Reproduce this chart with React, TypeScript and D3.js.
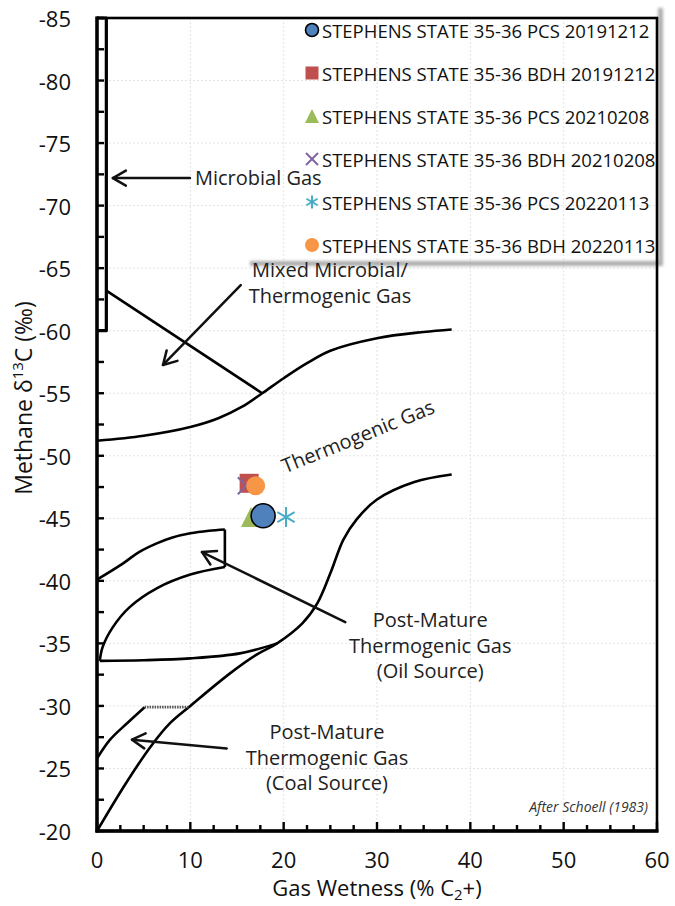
import React from 'react';
import * as d3 from 'd3';

const W = 675;
const H = 906;

// axes
const xDomain: [number, number] = [0, 60];
const yDomain: [number, number] = [-85, -20];
const xTickLabels = [0, 10, 20, 30, 40, 50, 60];
const yTickLabels = [-85, -80, -75, -70, -65, -60, -55, -50, -45, -40, -35, -30, -25, -20];

// series (gas wetness %, methane d13C)
const seriesNames = [
  'STEPHENS STATE 35-36 PCS 20191212',
  'STEPHENS STATE 35-36 BDH 20191212',
  'STEPHENS STATE 35-36 PCS 20210208',
  'STEPHENS STATE 35-36 BDH 20210208',
  'STEPHENS STATE 35-36 PCS 20220113',
  'STEPHENS STATE 35-36 BDH 20220113',
];
const seriesX = [17.8, 16.3, 16.5, 16.0, 20.25, 17.0];
const seriesY = [-45.2, -47.8, -45.1, -47.6, -45.1, -47.6];
const seriesColors = ['#4F81BD', '#C0504D', '#9BBB59', '#8064A2', '#4BACC6', '#F79646'];
const seriesShapes = ['circle', 'square', 'triangle', 'x', 'asterisk', 'dot'];
const drawOrder = [1, 3, 5, 2, 0, 4];

// Schoell (1983) field boundaries
const microbialBoxX = [0, 1, 1, 0];
const microbialBoxY = [-85, -85, -60, -60];
const mixedLineX = [1, 17.7];
const mixedLineY = [-63.2, -55];
const thermoUpperX = [0, 5, 10, 13, 15.5, 17.7, 20, 22.5, 25, 30, 35, 38];
const thermoUpperY = [-51.2, -51.6, -52.3, -53.0, -53.9, -55.0, -56.2, -57.4, -58.4, -59.4, -59.9, -60.1];
const thermoLowerX = [0, 3, 5.7, 7.8, 10, 14.25, 17.1, 19.3, 22, 23.6, 25, 26.4, 27.8, 30, 34, 38];
const thermoLowerY = [-20, -23.7, -26.7, -28.6, -30, -32.6, -34.1, -35, -36.6, -38.2, -40.6, -43.3, -44.9, -46.5, -47.9, -48.5];
const oilBaseX = [0.3, 5, 10, 15.3, 19.3];
const oilBaseY = [-33.6, -33.65, -33.8, -34.2, -35];
const oilUpperX = [0, 2.8, 4.5, 6.4, 8, 10, 12, 13.7];
const oilUpperY = [-40.1, -41.4, -42.3, -43.0, -43.45, -43.8, -44.0, -44.1];
const oilEdgeX = [13.7, 13.7];
const oilEdgeY = [-44.1, -41.1];
const oilInnerX = [13.7, 10, 6.4, 3.5, 1.7, 0.6, 0.3];
const oilInnerY = [-41.1, -40.5, -39.4, -37.9, -36.3, -34.7, -33.6];
const coalUpperX = [0, 1.4, 3.2, 5.1];
const coalUpperY = [-25.8, -27.3, -28.6, -29.9];
const coalTopX = [5.1, 9.8];
const coalTopY = [-29.9, -29.9];

// annotation arrows: [fromX, fromY, toX, toY]
const arrowMicrobial = [9.96, -72.2, 1.7, -72.2];
const arrowMixed = [15.4, -63.65, 7.07, -57.26];
const arrowOil = [26.6, -36.7, 11.25, -42.3];
const arrowCoal = [13.9, -26.6, 3.75, -27.3];

const zip = (xs: number[], ys: number[]) => xs.map((v, i) => [v, ys[i]] as [number, number]);

export default function App() {
  const x = d3.scaleLinear().domain(xDomain).range([97, 657]);
  const y = d3.scaleLinear().domain(yDomain).range([18, 831]);

  const smooth = d3
    .line<[number, number]>()
    .x((d) => x(d[0]))
    .y((d) => y(d[1]))
    .curve(d3.curveCatmullRom.alpha(0.5));
  const straight = d3
    .line<[number, number]>()
    .x((d) => x(d[0]))
    .y((d) => y(d[1]));

  const xMinor = d3.range(0, 60.01, 2.5);
  const yMinor = d3.range(-85, -19.99, 2.5);

  const arrow = (a: number[], key: string) => {
    const x1 = x(a[0]), y1 = y(a[1]), x2 = x(a[2]), y2 = y(a[3]);
    const ang = Math.atan2(y2 - y1, x2 - x1);
    const L = 15;
    const w1 = [x2 - L * Math.cos(ang - Math.PI / 6), y2 - L * Math.sin(ang - Math.PI / 6)];
    const w2 = [x2 - L * Math.cos(ang + Math.PI / 6), y2 - L * Math.sin(ang + Math.PI / 6)];
    return (
      <g key={key} stroke="#111" strokeWidth={2.5} fill="none" strokeLinecap="round" strokeLinejoin="round">
        <line x1={x1} y1={y1} x2={x2} y2={y2} />
        <polyline points={`${w1[0]},${w1[1]} ${x2},${y2} ${w2[0]},${w2[1]}`} />
      </g>
    );
  };

  const marker = (shape: string, color: string, cx: number, cy: number, s: number, key: string) => {
    switch (shape) {
      case 'circle':
        return <circle key={key} cx={cx} cy={cy} r={s / 2} fill={color} stroke="#000" strokeWidth={1.6} />;
      case 'dot':
        return <circle key={key} cx={cx} cy={cy} r={s / 2} fill={color} />;
      case 'square':
        return <rect key={key} x={cx - s / 2} y={cy - s / 2} width={s} height={s} fill={color} />;
      case 'triangle':
        return (
          <polygon
            key={key}
            points={`${cx},${cy - s / 2} ${cx + s / 2},${cy + s / 2} ${cx - s / 2},${cy + s / 2}`}
            fill={color}
          />
        );
      case 'x':
        return (
          <g key={key} stroke={color} strokeWidth={2}>
            <line x1={cx - s / 2} y1={cy - s / 2} x2={cx + s / 2} y2={cy + s / 2} />
            <line x1={cx - s / 2} y1={cy + s / 2} x2={cx + s / 2} y2={cy - s / 2} />
          </g>
        );
      case 'asterisk':
        return (
          <g key={key} stroke={color} strokeWidth={2}>
            <line x1={cx} y1={cy - s / 2} x2={cx} y2={cy + s / 2} />
            <line x1={cx - s * 0.43} y1={cy - s * 0.25} x2={cx + s * 0.43} y2={cy + s * 0.25} />
            <line x1={cx - s * 0.43} y1={cy + s * 0.25} x2={cx + s * 0.43} y2={cy - s * 0.25} />
          </g>
        );
      default:
        return null;
    }
  };
  const plotSizes: Record<string, number> = { circle: 24, dot: 19, square: 19, triangle: 20, x: 17, asterisk: 20 };
  const legendSizes: Record<string, number> = { circle: 13, dot: 14, square: 13, triangle: 14, x: 12, asterisk: 13 };

  const font = "'Open Sans', 'DejaVu Sans', sans-serif";
  const annot = { fontFamily: font, fontSize: 20, fill: '#222' } as const;
  const thermoLabel = [27.96, -51.58];

  return (
    <svg width={W} height={H} style={{ position: 'absolute', left: 0, top: 0, background: '#fff' }}>
      <defs>
        <filter id="blur" x="-50%" y="-50%" width="200%" height="200%">
          <feGaussianBlur stdDeviation={1.8} />
        </filter>
      </defs>
      {/* gridlines */}
      <g stroke="#e3e3e3" strokeWidth={1} strokeDasharray="2,2">
        {xTickLabels.slice(1, -1).map((t) => (
          <line key={'gx' + t} x1={x(t)} x2={x(t)} y1={y(-85)} y2={y(-20)} />
        ))}
        {yTickLabels.slice(1, -1).map((t) => (
          <line key={'gy' + t} x1={x(0)} x2={x(60)} y1={y(t)} y2={y(t)} />
        ))}
      </g>

      {/* legend shadow (no fill) */}
      <g filter="url(#blur)" fill="#9a9a9a" opacity={0.8}>
        <rect x={250} y={261} width={412} height={5} />
        <rect x={658} y={8} width={5} height={258} />
      </g>

      {/* field boundaries */}
      <g fill="none" stroke="#000" strokeWidth={2.6} strokeLinejoin="round">
        <path d={straight(zip(microbialBoxX, microbialBoxY)) || ''} strokeWidth={3.2} />
        <path d={straight(zip(mixedLineX, mixedLineY)) || ''} />
        <path d={smooth(zip(thermoUpperX, thermoUpperY)) || ''} />
        <path d={smooth(zip(thermoLowerX, thermoLowerY)) || ''} />
        <path d={smooth(zip(oilBaseX, oilBaseY)) || ''} />
        <path d={smooth(zip(oilUpperX, oilUpperY)) || ''} />
        <path d={straight(zip(oilEdgeX, oilEdgeY)) || ''} />
        <path d={smooth(zip(oilInnerX, oilInnerY)) || ''} />
        <path d={smooth(zip(coalUpperX, coalUpperY)) || ''} />
        <path d={straight(zip(coalTopX, coalTopY)) || ''} stroke="#555" strokeDasharray="1.5,1" />
      </g>

      {/* arrows */}
      {arrow(arrowMicrobial, 'am')}
      {arrow(arrowMixed, 'amx')}
      {arrow(arrowOil, 'ao')}
      {arrow(arrowCoal, 'ac')}

      {/* annotations */}
      <text x={x(10.5)} y={y(-71.65)} {...annot}>Microbial Gas</text>
      <text x={x(24.96)} y={y(-64.29)} textAnchor="middle" {...annot}>Mixed Microbial/</text>
      <text x={x(24.96)} y={y(-62.21)} textAnchor="middle" {...annot}>Thermogenic Gas</text>
      <text
        x={x(thermoLabel[0])}
        y={y(thermoLabel[1])}
        textAnchor="middle"
        dominantBaseline="central"
        transform={`rotate(-22 ${x(thermoLabel[0])} ${y(thermoLabel[1])})`}
        {...annot}
      >
        Thermogenic Gas
      </text>
      <text x={x(35.7)} y={y(-36.31)} textAnchor="middle" {...annot}>Post-Mature</text>
      <text x={x(35.7)} y={y(-34.23)} textAnchor="middle" {...annot}>Thermogenic Gas</text>
      <text x={x(35.7)} y={y(-32.23)} textAnchor="middle" {...annot}>(Oil Source)</text>
      <text x={x(24.64)} y={y(-27.36)} textAnchor="middle" {...annot}>Post-Mature</text>
      <text x={x(24.64)} y={y(-25.28)} textAnchor="middle" {...annot}>Thermogenic Gas</text>
      <text x={x(24.64)} y={y(-23.28)} textAnchor="middle" {...annot}>(Coal Source)</text>
      <text x={x(59.04)} y={y(-21.52)} textAnchor="end" fontFamily={font} fontStyle="italic" fontSize={14} fill="#333">
        After Schoell (1983)
      </text>

      {/* data points */}
      {drawOrder.map((i) =>
        marker(seriesShapes[i], seriesColors[i], x(seriesX[i]), y(seriesY[i]), plotSizes[seriesShapes[i]], 'p' + i)
      )}

      {/* frame */}
      <rect x={x(0)} y={y(-85)} width={x(60) - x(0)} height={y(-20) - y(-85)} fill="none" stroke="#000" strokeWidth={2.6} />
      <line x1={x(0)} x2={x(0)} y1={y(-85) - 1.5} y2={y(-20) + 1.5} stroke="#000" strokeWidth={3.4} />
      <line x1={x(0) - 1.5} x2={x(60) + 1.5} y1={y(-20)} y2={y(-20)} stroke="#000" strokeWidth={3.4} />

      {/* ticks */}
      <g stroke="#000" strokeWidth={2.4}>
        {xMinor.map((t) => (
          <line key={'tx' + t} x1={x(t)} x2={x(t)} y1={y(-20)} y2={y(-20) - (t % 10 === 0 ? 9 : 6)} />
        ))}
        {yMinor.map((t) => (
          <line key={'ty' + t} x1={x(0)} x2={x(0) + 7} y1={y(t)} y2={y(t)} />
        ))}
      </g>

      {/* tick labels */}
      <g fontFamily={font} fontSize={22} fill="#111">
        {xTickLabels.map((t) => (
          <text key={'lx' + t} x={x(t)} y={y(-20) + 37} textAnchor="middle">
            {t}
          </text>
        ))}
        {yTickLabels.map((t) => (
          <text key={'ly' + t} x={71} y={y(t)} textAnchor="end" dominantBaseline="central">
            {t}
          </text>
        ))}
      </g>

      {/* axis titles */}
      <text x={x(30)} y={896} textAnchor="middle" fontFamily={font} fontSize={22} fill="#111">
        Gas Wetness (% C<tspan fontSize={15} dy={4}>2</tspan>
        <tspan dy={-4}>+)</tspan>
      </text>
      <text
        transform={`translate(32, 398) rotate(-90)`}
        textAnchor="middle"
        fontFamily={font}
        fontSize={23}
        fill="#111"
      >
        Methane  δ<tspan fontSize={15} dy={-9}>13</tspan>
        <tspan dy={9}>C (‰)</tspan>
      </text>

      {/* legend */}
      {seriesNames.map((n, i) => {
        const cy = 30 + i * 43;
        return (
          <g key={'lg' + i}>
            {marker(seriesShapes[i], seriesColors[i], 312, cy, legendSizes[seriesShapes[i]], 'lm' + i)}
            <text x={322} y={cy} dominantBaseline="central" fontFamily={font} fontSize={18.5} fill="#111">
              {n}
            </text>
          </g>
        );
      })}
    </svg>
  );
}
